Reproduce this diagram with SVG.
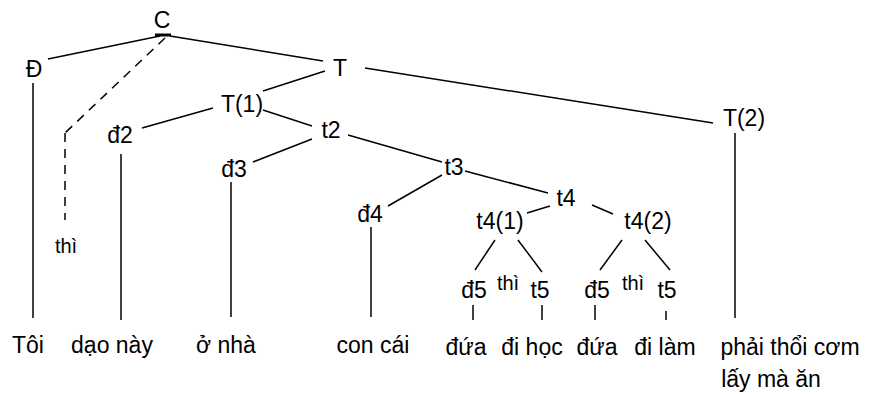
<svg xmlns="http://www.w3.org/2000/svg" width="873" height="394" viewBox="0 0 873 394">
<style>
text{font-family:"Liberation Sans","DejaVu Sans",Arial,sans-serif;font-size:23px;fill:#000;text-anchor:middle}
text.s{font-size:20px}
.e line{stroke:#000;stroke-width:1.5;fill:none}
.e line.d{stroke-dasharray:9 7}
</style>
<rect width="873" height="394" fill="#fff"/>
<g id="connectors" class="e">
<line x1="155" y1="35" x2="171" y2="35" style="stroke-width:3"/>
<line x1="160" y1="36" x2="48" y2="59"/>
<line x1="170" y1="36" x2="323" y2="61"/>
<line class="d" x1="165" y1="38" x2="65" y2="133"/>
<line class="d" x1="65" y1="133" x2="65" y2="220"/>
<line x1="33" y1="83" x2="33" y2="318"/>
<line x1="325" y1="71" x2="263" y2="91"/>
<line x1="365" y1="68" x2="713" y2="123"/>
<line x1="213" y1="108" x2="142" y2="128"/>
<line x1="263" y1="110" x2="312" y2="126"/>
<line x1="121" y1="154" x2="121" y2="320"/>
<line x1="312" y1="139" x2="253" y2="162"/>
<line x1="348" y1="135" x2="442" y2="162"/>
<line x1="231" y1="182" x2="231" y2="317"/>
<line x1="442" y1="175" x2="388" y2="206"/>
<line x1="465" y1="171" x2="548" y2="193"/>
<line x1="371" y1="227" x2="371" y2="317"/>
<line x1="550" y1="206" x2="527" y2="213"/>
<line x1="592" y1="205" x2="613" y2="214"/>
<line x1="735" y1="133" x2="735" y2="318"/>
<line x1="495" y1="240" x2="475" y2="270"/>
<line x1="518" y1="240" x2="542" y2="272"/>
<line x1="622" y1="240" x2="600" y2="270"/>
<line x1="645" y1="240" x2="670" y2="270"/>
<line x1="473" y1="305" x2="473" y2="320"/>
<line x1="542" y1="305" x2="542" y2="320"/>
<line x1="595" y1="305" x2="595" y2="320"/>
<line x1="666" y1="311" x2="666" y2="320"/>
</g>
<g id="n-C"><text x="162" y="28">C</text></g>
<g id="n-D"><text x="34" y="77">Đ</text></g>
<g id="n-T"><text x="340" y="76">T</text></g>
<g id="n-T1"><text x="242" y="112">T(1)</text></g>
<g id="n-T2"><text x="744" y="126">T(2)</text></g>
<g id="n-d2"><text x="120" y="143">đ2</text></g>
<g id="n-t2"><text x="331" y="138">t2</text></g>
<g id="n-d3"><text x="234" y="177">đ3</text></g>
<g id="n-t3"><text x="454" y="175">t3</text></g>
<g id="n-d4"><text x="370" y="222">đ4</text></g>
<g id="n-t4"><text x="566" y="206">t4</text></g>
<g id="n-t41"><text x="500" y="229">t4(1)</text></g>
<g id="n-t42"><text x="648" y="229">t4(2)</text></g>
<g id="n-d5a"><text x="474" y="298">đ5</text></g>
<g id="n-thi2"><text class="s" x="508" y="290">thì</text></g>
<g id="n-t5a"><text x="540" y="298">t5</text></g>
<g id="n-d5b"><text x="597" y="298">đ5</text></g>
<g id="n-thi3"><text class="s" x="633" y="290">thì</text></g>
<g id="n-t5b"><text x="667" y="298">t5</text></g>
<g id="n-thi1"><text class="s" x="66" y="253">thì</text></g>
<g id="w-toi"><text x="28" y="353">Tôi</text></g>
<g id="w-daonay"><text x="112" y="353">dạo này</text></g>
<g id="w-onha"><text x="226" y="353">ở nhà</text></g>
<g id="w-concai"><text x="373" y="353">con cái</text></g>
<g id="w-dua1"><text x="466" y="355">đứa</text></g>
<g id="w-dihoc"><text x="532" y="355">đi học</text></g>
<g id="w-dua2"><text x="597" y="355">đứa</text></g>
<g id="w-dilam"><text x="665" y="355">đi làm</text></g>
<g id="w-phai"><text x="790" y="355">phải thổi cơm</text><text x="771" y="387">lấy mà ăn</text></g>
</svg>
